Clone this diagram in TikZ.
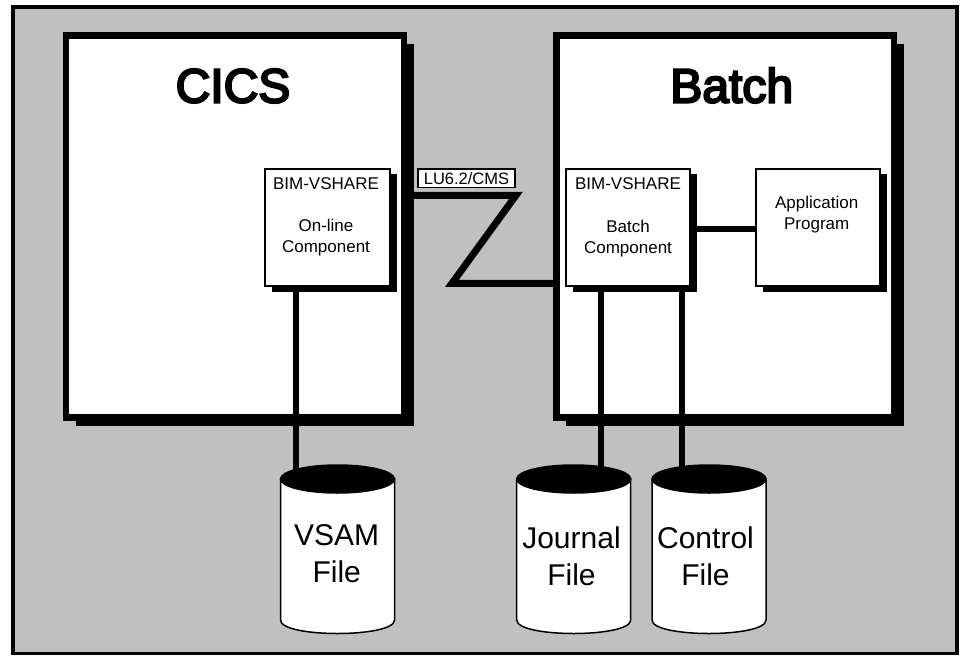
\documentclass[tikz,border=0pt]{standalone}
\usepackage{fontspec}
\setmainfont{Liberation Sans}
\newfontfamily\titlefont[FakeBold=4.5]{Liberation Sans}
\usetikzlibrary{shadows,calc}
\definecolor{bggray}{HTML}{C0C0C0}
\newcommand\dbcyl[2]{%
  \path[fill=white,draw=black,line width=1.5pt] (#1-57,479) -- (#1-57,620)
     .. controls (#1-57,638) and (#1+57,638) .. (#1+57,620) -- (#1+57,479) -- cycle;
  \path[fill=black,draw=black,line width=1.5pt] (#1,479) ellipse [x radius=57, y radius=14];
  \coordinate (#2) at (#1,479);
}
\begin{document}
\begin{tikzpicture}[x=1pt,y=-1pt,
  bigbox/.style={draw=black, line width=6.5pt, fill=white, outer sep=0pt, inner sep=0pt,
     minimum width=337.6pt, minimum height=382.4pt,
     drop shadow={shadow xshift=10pt, shadow yshift=-8.5pt, opacity=1, fill=black}},
  compbox/.style={draw=black, line width=2pt, fill=white, outer sep=0pt, inner sep=0pt,
     minimum width=124.7pt, minimum height=117.6pt,
     drop shadow={shadow xshift=7pt, shadow yshift=-5.5pt, opacity=1, fill=black}},
  conn/.style={line width=6pt, line cap=butt},
  zline/.style={line width=7pt, line join=miter},
  title/.style={font=\titlefont\fontsize{48}{56}\selectfont, inner sep=0pt, anchor=base},
  small/.style={font=\fontsize{17}{21}\selectfont, inner sep=0pt, align=center},
  filetext/.style={font=\fontsize{30}{37}\selectfont, inner sep=0pt, align=center},
  lubox/.style={draw=black, line width=1.5pt, fill=white, inner sep=0pt,
     minimum width=97pt, minimum height=18.5pt, font=\fontsize{16.5}{19}\selectfont}
]
\fill[white] (0,0) rectangle (960,656);
\useasboundingbox (0,0) rectangle (960,656);
\draw[line width=3.5pt, fill=bggray] (13,7) rectangle (957,653.5);

% big boxes
\node[bigbox] (cics) at (235,226.5) {};
\node[bigbox] (batch) at (725.2,226.5) {};
\node[title] (cicst) at (233,102.5) {CICS};
\node[title] (batcht) at (731.7,102.5) {Batch};

% Z connector
\coordinate (z1) at (516,195.3);
\coordinate (z2) at (452,283.3);
\draw[zline] (cics.east |- z1) -- (z1) -- (z2) -- (z2 -| batch.west);
\node[lubox] (lu) at (466.5,178.3) {LU6.2/CMS};

% component boxes
\node[compbox] (online) at (327.7,227.5) {};
\node[compbox] (bcomp) at (628,227.5) {};
\node[compbox] (app) at (818,227.5) {};

\node[small, anchor=base] (onbim) at (326,189.2) {BIM-VSHARE};
\node[small] (ontext) at (326,238) {On-line\\Component};
\node[small, anchor=base] (bbim) at (628,189.2) {BIM-VSHARE};
\node[small] (btext) at (628,238.5) {Batch\\Component};
\node[small] (apptext) at (816.7,215) {Application\\Program};

\draw[conn] ([yshift=-1.8pt]bcomp.east) -- ([yshift=-1.8pt]app.west);

% files
\coordinate (l1) at (295.7,479);
\coordinate (l2) at (600.5,479);
\coordinate (l3) at (682.3,479);
\draw[conn] (online.south -| l1) -- (l1);
\draw[conn] (bcomp.south -| l2) -- (l2);
\draw[conn] (bcomp.south -| l3) -- (l3);

\dbcyl{337.5}{vsamtop}
\dbcyl{573.7}{journaltop}
\dbcyl{709}{controltop}
\node[filetext] (vsam) at (336.7,554) {VSAM\\File};
\node[filetext] (journal) at (571.5,556) {Journal\\File};
\node[filetext] (control) at (705.5,556) {Control\\File};
\end{tikzpicture}
\end{document}
